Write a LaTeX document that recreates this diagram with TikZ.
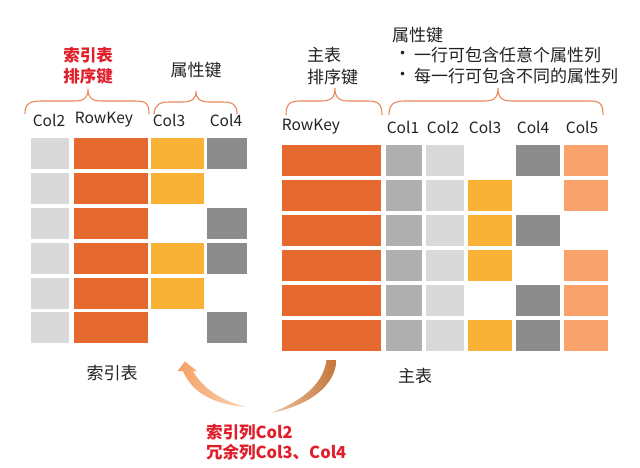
\documentclass[tikz,border=0pt]{standalone}
\usepackage{fontspec}
\setmainfont{Noto Sans CJK SC}
\definecolor{rk}{HTML}{E5692F}
\definecolor{yel}{HTML}{FAB236}
\definecolor{lgr}{HTML}{D9D9D9}
\definecolor{mgr}{HTML}{AFAFAF}
\definecolor{dgr}{HTML}{8C8C8C}
\definecolor{lor}{HTML}{F9A26B}
\definecolor{brc}{HTML}{E8875A}
\definecolor{red1}{HTML}{E01F2A}
\definecolor{txt}{HTML}{222222}
\definecolor{arrL}{HTML}{F4A062}
\definecolor{arrLt}{HTML}{FAD6BC}
\definecolor{arrR}{HTML}{C4753A}
\definecolor{arrRt}{HTML}{F0C4A2}
\begin{document}
\begin{tikzpicture}[x=1pt,y=-1pt,
  cell/.style={anchor=north west,inner sep=0pt,outer sep=0pt,minimum height=31pt,draw=none},
  hdr/.style={font=\fontsize{15.5}{17}\selectfont,text=txt,inner sep=0pt},
  lbl/.style={font=\fontsize{17}{21.5}\selectfont,text=txt,inner sep=0pt,align=center},
  redlbl/.style={font=\bfseries\fontsize{16.5}{21.5}\selectfont,text=red1,inner sep=0pt},
  bracepath/.style={draw=brc,line width=1.1pt}]
\useasboundingbox (0,0) rectangle (640,468);
\fill[white] (0,0) rectangle (640,468);

% ---------- left table (index table) ----------
\foreach \r in {0,...,5}{
  \pgfmathsetmacro{\yy}{138.3+34.8*\r}
  \node[cell,fill=lgr,minimum width=38pt] (L2-\r) at (31,\yy) {};
  \node[cell,fill=rk,minimum width=74pt] (LK-\r) at (73.5,\yy) {};
}
\foreach \r in {0,1,3,4}{
  \pgfmathsetmacro{\yy}{138.3+34.8*\r}
  \node[cell,fill=yel,minimum width=52.5pt] (L3-\r) at (151,\yy) {};
}
\foreach \r in {0,2,3,5}{
  \pgfmathsetmacro{\yy}{138.3+34.8*\r}
  \node[cell,fill=dgr,minimum width=40pt] (L4-\r) at (207,\yy) {};
}

% ---------- right table (main table) ----------
\foreach \r in {0,...,5}{
  \pgfmathsetmacro{\yy}{145+34.95*\r}
  \node[cell,fill=rk,minimum width=99pt] (RK-\r) at (282,\yy) {};
  \node[cell,fill=mgr,minimum width=36pt] (R1-\r) at (386,\yy) {};
  \node[cell,fill=lgr,minimum width=38pt] (R2-\r) at (426,\yy) {};
}
\foreach \r in {1,2,3,5}{
  \pgfmathsetmacro{\yy}{145+34.95*\r}
  \node[cell,fill=yel,minimum width=44pt] (R3-\r) at (468,\yy) {};
}
\foreach \r in {0,2,4,5}{
  \pgfmathsetmacro{\yy}{145+34.95*\r}
  \node[cell,fill=dgr,minimum width=44pt] (R4-\r) at (516,\yy) {};
}
\foreach \r in {0,1,3,4,5}{
  \pgfmathsetmacro{\yy}{145+34.95*\r}
  \node[cell,fill=lor,minimum width=43.5pt] (R5-\r) at (564,\yy) {};
}

% ---------- column headers ----------
\node[hdr] (hL2) at (49,120) {Col2};
\node[hdr] (hLK) at (104,120) {RowKey};
\node[hdr] (hL3) at (169,120) {Col3};
\node[hdr] (hL4) at (226,120) {Col4};
\node[hdr] (hRK) at (311,127) {RowKey};
\node[hdr] (hR1) at (403,127) {Col1};
\node[hdr] (hR2) at (443,127) {Col2};
\node[hdr] (hR3) at (485,127) {Col3};
\node[hdr] (hR4) at (533,127) {Col4};
\node[hdr] (hR5) at (582,127) {Col5};

% ---------- braces ----------
\draw[bracepath] (25,114) .. controls (25,103) and (30,101) .. (42,101)
  -- (74,101) .. controls (84,101) and (88,98) .. (88,89)
  .. controls (88,98) and (92,101) .. (102,101) -- (134,101)
  .. controls (146,101) and (149,103) .. (149,114);
\draw[bracepath] (154,114) .. controls (155,104) and (160,102) .. (170,102)
  -- (183,102) .. controls (192,102) and (196,99) .. (196,91)
  .. controls (196,99) and (200,102) .. (209,102) -- (222,102)
  .. controls (232,102) and (237,104) .. (237,114);
\draw[bracepath] (286,115) .. controls (286,104) and (290,101) .. (300,101)
  -- (321,101) .. controls (331,101) and (335,98) .. (335,88)
  .. controls (335,98) and (339,101) .. (349,101) -- (368,101)
  .. controls (378,101) and (382,104) .. (382,115);
\draw[bracepath] (389,115) .. controls (389,104) and (394,101) .. (405,101)
  -- (484,101) .. controls (494,101) and (498,98) .. (498,88)
  .. controls (498,98) and (502,101) .. (512,101) -- (590,101)
  .. controls (600,101) and (603,104) .. (603,115);

% ---------- brace labels ----------
\node[redlbl,align=center] (tL1) at (88,66) {索引表\\排序键};
\node[lbl] (tL2) at (196,70) {属性键};
\node[lbl,align=left,anchor=west] (tR1) at (307,66) {主表\\排序键};
\node[lbl,anchor=west] (tR2) at (392,35) {属性键};
\node[lbl,anchor=west] (b1) at (394,55) {•};
\node[lbl,anchor=west] (tR3) at (414,55) {一行可包含任意个属性列};
\node[lbl,anchor=west] (b2) at (394,76) {•};
\node[lbl,anchor=west] (tR4) at (414,76) {每一行可包含不同的属性列};

% ---------- table names ----------
\node[lbl] (nL) at (112,373) {索引表};
\node[lbl] (nR) at (415,376) {主表};

% ---------- curved arrow ----------
\shade[left color=arrRt,right color=arrR]
  (326.5,360) -- (336.5,360)
  .. controls (335,386) and (310,405) .. (271,413)
  .. controls (299,402) and (323,386) .. (326.5,360) -- cycle;
\shade[left color=arrL,right color=arrLt]
  (185,361.5) -- (197,371) -- (193,371)
  .. controls (203,389) and (222,401) .. (247,407)
  .. controls (215,405) and (192,393) .. (183,371)
  -- (177.5,371) -- cycle;

% ---------- red caption ----------
\node[redlbl,anchor=west] (c1) at (206,432) {索引列Col2};
\node[redlbl,anchor=west] (c2) at (206,452) {冗余列Col3、Col4};
\end{tikzpicture}
\end{document}
